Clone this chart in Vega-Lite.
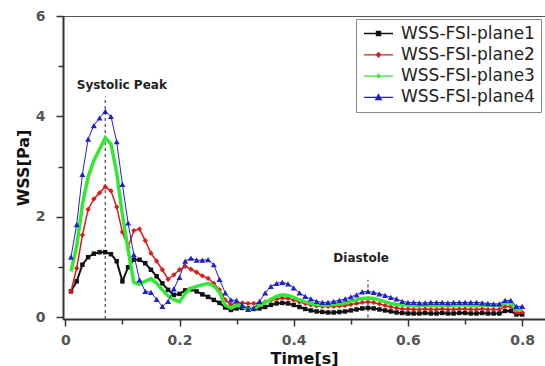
{
  "$schema": "https://vega.github.io/schema/vega-lite/v6.json",
  "autosize": {"type": "none"},
  "width": 482,
  "height": 303,
  "padding": {"left": 63, "top": 16, "right": 0, "bottom": 47},
  "background": "white",
  "config": {
    "view": {"stroke": "#555", "strokeWidth": 1},
    "font": "DejaVu Sans"
  },
  "datasets": {
    "p1": [
      {"t":0.01,"v":0.52},{"t":0.02,"v":0.72},{"t":0.03,"v":1.05},{"t":0.04,"v":1.2},{"t":0.05,"v":1.27},{"t":0.06,"v":1.3},{"t":0.07,"v":1.3},{"t":0.08,"v":1.26},{"t":0.09,"v":1.12},{"t":0.1,"v":0.72},
      {"t":0.11,"v":1.0},{"t":0.12,"v":1.15},{"t":0.13,"v":1.15},{"t":0.14,"v":1.08},{"t":0.15,"v":0.95},{"t":0.16,"v":0.82},{"t":0.17,"v":0.68},{"t":0.18,"v":0.55},{"t":0.19,"v":0.45},{"t":0.2,"v":0.47},
      {"t":0.21,"v":0.54},{"t":0.22,"v":0.56},{"t":0.23,"v":0.52},{"t":0.24,"v":0.46},{"t":0.25,"v":0.41},{"t":0.26,"v":0.35},{"t":0.27,"v":0.29},{"t":0.28,"v":0.2},{"t":0.29,"v":0.15},{"t":0.3,"v":0.18},
      {"t":0.31,"v":0.19},{"t":0.32,"v":0.18},{"t":0.33,"v":0.17},{"t":0.34,"v":0.18},{"t":0.35,"v":0.21},{"t":0.36,"v":0.25},{"t":0.37,"v":0.28},{"t":0.38,"v":0.29},{"t":0.39,"v":0.28},{"t":0.4,"v":0.25},
      {"t":0.41,"v":0.21},{"t":0.42,"v":0.17},{"t":0.43,"v":0.14},{"t":0.44,"v":0.12},{"t":0.45,"v":0.11},{"t":0.46,"v":0.1},{"t":0.47,"v":0.1},{"t":0.48,"v":0.11},{"t":0.49,"v":0.12},{"t":0.5,"v":0.14},
      {"t":0.51,"v":0.16},{"t":0.52,"v":0.18},{"t":0.53,"v":0.19},{"t":0.54,"v":0.18},{"t":0.55,"v":0.16},{"t":0.56,"v":0.14},{"t":0.57,"v":0.12},{"t":0.58,"v":0.1},{"t":0.59,"v":0.09},{"t":0.6,"v":0.08},
      {"t":0.61,"v":0.08},{"t":0.62,"v":0.08},{"t":0.63,"v":0.09},{"t":0.64,"v":0.08},{"t":0.65,"v":0.08},{"t":0.66,"v":0.09},{"t":0.67,"v":0.08},{"t":0.68,"v":0.08},{"t":0.69,"v":0.09},{"t":0.7,"v":0.09},
      {"t":0.71,"v":0.08},{"t":0.72,"v":0.08},{"t":0.73,"v":0.09},{"t":0.74,"v":0.08},{"t":0.75,"v":0.08},{"t":0.76,"v":0.08},{"t":0.77,"v":0.13},{"t":0.78,"v":0.13},{"t":0.79,"v":0.06},{"t":0.8,"v":0.06}
    ],
    "p2": [
      {"t":0.01,"v":0.52},{"t":0.02,"v":0.98},{"t":0.03,"v":1.64},{"t":0.04,"v":2.15},{"t":0.05,"v":2.36},{"t":0.06,"v":2.48},{"t":0.07,"v":2.6},{"t":0.08,"v":2.52},{"t":0.09,"v":2.2},{"t":0.1,"v":1.7},
      {"t":0.11,"v":1.4},{"t":0.12,"v":1.73},{"t":0.13,"v":1.76},{"t":0.14,"v":1.53},{"t":0.15,"v":1.28},{"t":0.16,"v":1.12},{"t":0.17,"v":0.95},{"t":0.18,"v":0.76},{"t":0.19,"v":0.85},{"t":0.2,"v":0.95},
      {"t":0.21,"v":1.02},{"t":0.22,"v":0.96},{"t":0.23,"v":0.9},{"t":0.24,"v":0.83},{"t":0.25,"v":0.78},{"t":0.26,"v":0.68},{"t":0.27,"v":0.55},{"t":0.28,"v":0.35},{"t":0.29,"v":0.25},{"t":0.3,"v":0.3},
      {"t":0.31,"v":0.29},{"t":0.32,"v":0.28},{"t":0.33,"v":0.28},{"t":0.34,"v":0.29},{"t":0.35,"v":0.31},{"t":0.36,"v":0.34},{"t":0.37,"v":0.37},{"t":0.38,"v":0.39},{"t":0.39,"v":0.38},{"t":0.4,"v":0.35},
      {"t":0.41,"v":0.31},{"t":0.42,"v":0.28},{"t":0.43,"v":0.25},{"t":0.44,"v":0.23},{"t":0.45,"v":0.22},{"t":0.46,"v":0.22},{"t":0.47,"v":0.22},{"t":0.48,"v":0.23},{"t":0.49,"v":0.24},{"t":0.5,"v":0.26},
      {"t":0.51,"v":0.28},{"t":0.52,"v":0.3},{"t":0.53,"v":0.31},{"t":0.54,"v":0.3},{"t":0.55,"v":0.27},{"t":0.56,"v":0.24},{"t":0.57,"v":0.21},{"t":0.58,"v":0.19},{"t":0.59,"v":0.17},{"t":0.6,"v":0.17},
      {"t":0.61,"v":0.16},{"t":0.62,"v":0.16},{"t":0.63,"v":0.17},{"t":0.64,"v":0.16},{"t":0.65,"v":0.16},{"t":0.66,"v":0.17},{"t":0.67,"v":0.16},{"t":0.68,"v":0.16},{"t":0.69,"v":0.17},{"t":0.7,"v":0.17},
      {"t":0.71,"v":0.16},{"t":0.72,"v":0.16},{"t":0.73,"v":0.17},{"t":0.74,"v":0.16},{"t":0.75,"v":0.16},{"t":0.76,"v":0.16},{"t":0.77,"v":0.22},{"t":0.78,"v":0.22},{"t":0.79,"v":0.1},{"t":0.8,"v":0.1}
    ],
    "p3": [
      {"t":0.01,"v":0.92},{"t":0.02,"v":1.42},{"t":0.03,"v":2.25},{"t":0.04,"v":2.8},{"t":0.05,"v":3.12},{"t":0.06,"v":3.35},{"t":0.07,"v":3.58},{"t":0.08,"v":3.45},{"t":0.09,"v":2.88},{"t":0.1,"v":2.05},
      {"t":0.11,"v":1.35},{"t":0.12,"v":0.7},{"t":0.13,"v":0.66},{"t":0.14,"v":0.72},{"t":0.15,"v":0.77},{"t":0.16,"v":0.68},{"t":0.17,"v":0.55},{"t":0.18,"v":0.43},{"t":0.19,"v":0.36},{"t":0.2,"v":0.31},
      {"t":0.21,"v":0.48},{"t":0.22,"v":0.58},{"t":0.23,"v":0.62},{"t":0.24,"v":0.65},{"t":0.25,"v":0.68},{"t":0.26,"v":0.63},{"t":0.27,"v":0.5},{"t":0.28,"v":0.25},{"t":0.29,"v":0.19},{"t":0.3,"v":0.24},
      {"t":0.31,"v":0.22},{"t":0.32,"v":0.16},{"t":0.33,"v":0.18},{"t":0.34,"v":0.24},{"t":0.35,"v":0.3},{"t":0.36,"v":0.36},{"t":0.37,"v":0.42},{"t":0.38,"v":0.45},{"t":0.39,"v":0.44},{"t":0.4,"v":0.4},
      {"t":0.41,"v":0.35},{"t":0.42,"v":0.31},{"t":0.43,"v":0.28},{"t":0.44,"v":0.26},{"t":0.45,"v":0.25},{"t":0.46,"v":0.25},{"t":0.47,"v":0.26},{"t":0.48,"v":0.27},{"t":0.49,"v":0.29},{"t":0.5,"v":0.32},
      {"t":0.51,"v":0.35},{"t":0.52,"v":0.38},{"t":0.53,"v":0.39},{"t":0.54,"v":0.38},{"t":0.55,"v":0.35},{"t":0.56,"v":0.31},{"t":0.57,"v":0.28},{"t":0.58,"v":0.26},{"t":0.59,"v":0.25},{"t":0.6,"v":0.25},
      {"t":0.61,"v":0.24},{"t":0.62,"v":0.24},{"t":0.63,"v":0.25},{"t":0.64,"v":0.24},{"t":0.65,"v":0.24},{"t":0.66,"v":0.25},{"t":0.67,"v":0.24},{"t":0.68,"v":0.24},{"t":0.69,"v":0.25},{"t":0.7,"v":0.25},
      {"t":0.71,"v":0.24},{"t":0.72,"v":0.24},{"t":0.73,"v":0.25},{"t":0.74,"v":0.24},{"t":0.75,"v":0.24},{"t":0.76,"v":0.24},{"t":0.77,"v":0.29},{"t":0.78,"v":0.29},{"t":0.79,"v":0.15},{"t":0.8,"v":0.15}
    ],
    "p4": [
      {"t":0.01,"v":1.2},{"t":0.02,"v":1.85},{"t":0.03,"v":2.85},{"t":0.04,"v":3.55},{"t":0.05,"v":3.82},{"t":0.06,"v":3.97},{"t":0.07,"v":4.1},{"t":0.08,"v":4.0},{"t":0.09,"v":3.5},{"t":0.1,"v":2.65},
      {"t":0.11,"v":1.88},{"t":0.12,"v":1.25},{"t":0.13,"v":0.75},{"t":0.14,"v":0.52},{"t":0.15,"v":0.5},{"t":0.16,"v":0.36},{"t":0.17,"v":0.22},{"t":0.18,"v":0.32},{"t":0.19,"v":0.57},{"t":0.2,"v":0.8},
      {"t":0.21,"v":1.12},{"t":0.22,"v":1.18},{"t":0.23,"v":1.14},{"t":0.24,"v":1.14},{"t":0.25,"v":1.15},{"t":0.26,"v":1.05},{"t":0.27,"v":0.76},{"t":0.28,"v":0.49},{"t":0.29,"v":0.35},{"t":0.3,"v":0.34},
      {"t":0.31,"v":0.24},{"t":0.32,"v":0.16},{"t":0.33,"v":0.18},{"t":0.34,"v":0.32},{"t":0.35,"v":0.49},{"t":0.36,"v":0.62},{"t":0.37,"v":0.68},{"t":0.38,"v":0.7},{"t":0.39,"v":0.67},{"t":0.4,"v":0.59},
      {"t":0.41,"v":0.49},{"t":0.42,"v":0.42},{"t":0.43,"v":0.37},{"t":0.44,"v":0.32},{"t":0.45,"v":0.3},{"t":0.46,"v":0.3},{"t":0.47,"v":0.32},{"t":0.48,"v":0.34},{"t":0.49,"v":0.37},{"t":0.5,"v":0.41},
      {"t":0.51,"v":0.45},{"t":0.52,"v":0.51},{"t":0.53,"v":0.52},{"t":0.54,"v":0.5},{"t":0.55,"v":0.47},{"t":0.56,"v":0.44},{"t":0.57,"v":0.4},{"t":0.58,"v":0.37},{"t":0.59,"v":0.32},{"t":0.6,"v":0.3},
      {"t":0.61,"v":0.3},{"t":0.62,"v":0.29},{"t":0.63,"v":0.29},{"t":0.64,"v":0.3},{"t":0.65,"v":0.3},{"t":0.66,"v":0.3},{"t":0.67,"v":0.29},{"t":0.68,"v":0.3},{"t":0.69,"v":0.3},{"t":0.7,"v":0.3},
      {"t":0.71,"v":0.3},{"t":0.72,"v":0.3},{"t":0.73,"v":0.29},{"t":0.74,"v":0.28},{"t":0.75,"v":0.27},{"t":0.76,"v":0.27},{"t":0.77,"v":0.34},{"t":0.78,"v":0.34},{"t":0.79,"v":0.22},{"t":0.8,"v":0.22}
    ],
    "rules": [
      {"t":0.07,"y1":-0.03,"y2":4.4},
      {"t":0.53,"y1":0.0,"y2":0.75}
    ],
    "notes": [
      {"t":0.099,"v":4.62,"label":"Systolic Peak"},
      {"t":0.518,"v":1.19,"label":"Diastole"}
    ]
  },
  "encoding": {
    "x": {
      "field": "t", "type": "quantitative",
      "scale": {"domain": [-0.004, 0.84], "nice": false, "zero": false},
      "axis": {
        "title": "Time[s]",
        "values": [0, 0.1, 0.2, 0.3, 0.4, 0.5, 0.6, 0.7, 0.8],
        "labelExpr": "round(datum.value*10) % 2 == 0 ? (datum.value == 0 ? '0' : format(datum.value, '.1f')) : ''",
        "grid": false,
        "domainColor": "#333", "domainWidth": 2,
        "tickColor": "#333", "tickWidth": 1.5,
        "tickSize": {"condition": {"test": "round(datum.value*10) % 2 == 0", "value": 7}, "value": 5},
        "labelFont": "DejaVu Sans", "labelFontSize": 14, "labelFontWeight": "bold", "labelColor": "#555",
        "labelPadding": 7, "labelFlush": false, "labelOverlap": false,
        "titleFont": "DejaVu Sans", "titleFontSize": 16, "titleFontWeight": "bold", "titleColor": "#111",
        "titlePadding": 3
      }
    },
    "y": {
      "field": "v", "type": "quantitative",
      "scale": {"domain": [-0.03, 6], "nice": false, "zero": false},
      "axis": {
        "title": "WSS[Pa]",
        "values": [0, 1, 2, 3, 4, 5, 6],
        "labelExpr": "datum.value % 2 == 0 ? datum.label : ''",
        "grid": false,
        "domainColor": "#333", "domainWidth": 2,
        "tickColor": "#333", "tickWidth": 1.5,
        "tickSize": {"condition": {"test": "datum.value % 2 == 0", "value": 7}, "value": 5},
        "labelFont": "DejaVu Sans", "labelFontSize": 14, "labelFontWeight": "bold", "labelColor": "#555",
        "labelPadding": 11, "labelFlush": false, "labelOverlap": false,
        "titleFont": "DejaVu Sans", "titleFontSize": 16, "titleFontWeight": "bold", "titleColor": "#111",
        "titlePadding": 4
      }
    }
  },
  "layer": [
    {
      "data": {"name": "rules"},
      "mark": {"type": "rule", "color": "#555", "strokeWidth": 1.3, "strokeDash": [3, 3]},
      "encoding": {"y": {"field": "y1", "type": "quantitative"}, "y2": {"field": "y2"}}
    },
    {
      "data": {"name": "notes"},
      "mark": {"type": "text", "font": "DejaVu Sans", "fontSize": 12, "fontWeight": "bold", "color": "#222", "align": "center", "baseline": "middle"},
      "encoding": {"text": {"field": "label"}}
    },
    {
      "data": {"name": "p1"},
      "mark": {"type": "line", "strokeWidth": 2},
      "encoding": {
        "color": {
          "datum": "WSS-FSI-plane1", "type": "nominal",
          "scale": {
            "domain": ["WSS-FSI-plane1", "WSS-FSI-plane2", "WSS-FSI-plane3", "WSS-FSI-plane4"],
            "range": ["#111111", "#dd1a1a", "#33e833", "#1f1fcc"]
          },
          "legend": {
            "title": null,
            "orient": "none",
            "legendX": 293,
            "legendY": 3,
            "direction": "vertical",
            "fillColor": "white",
            "strokeColor": "#888",
            "padding": 6,
            "rowPadding": 3.3,
            "symbolSize": 210,
            "symbolOffset": 8,
            "symbolStrokeWidth": 1.3,
            "labelFont": "DejaVu Sans",
            "labelFontSize": 17,
            "labelColor": "#222",
            "labelOffset": 14,
            "labelLimit": 300,
            "encode": {
              "symbols": {
                "update": {
                  "shape": {"signal": "datum.value == 'WSS-FSI-plane1' ? 'M-2,0H2M-0.28,-0.28H0.28V0.28H-0.28Z' : datum.value == 'WSS-FSI-plane2' ? 'M-2,0H2M0,-0.3L0.3,0L0,0.3L-0.3,0Z' : datum.value == 'WSS-FSI-plane3' ? 'M-2,0H2M0,-0.22L0.22,0L0,0.22L-0.22,0Z' : 'M-2,0H2M0,-0.38L0.38,0.3H-0.38Z'"},
                  "fill": {"signal": "scale('color', datum.value)"},
                  "stroke": {"signal": "scale('color', datum.value)"},
                  "fillOpacity": {"value": 1},
                  "strokeOpacity": {"value": 1}
                }
              }
            }
          }
        }
      }
    },
    {
      "data": {"name": "p1"},
      "mark": {"type": "point", "shape": "square", "filled": true, "size": 20, "opacity": 1},
      "encoding": {"color": {"datum": "WSS-FSI-plane1", "type": "nominal"}}
    },
    {
      "data": {"name": "p2"},
      "mark": {"type": "line", "strokeWidth": 1.5},
      "encoding": {"color": {"datum": "WSS-FSI-plane2", "type": "nominal"}}
    },
    {
      "data": {"name": "p2"},
      "mark": {"type": "point", "shape": "diamond", "filled": true, "size": 28, "opacity": 1},
      "encoding": {"color": {"datum": "WSS-FSI-plane2", "type": "nominal"}}
    },
    {
      "data": {"name": "p3"},
      "mark": {"type": "line", "strokeWidth": 3.5},
      "encoding": {"color": {"datum": "WSS-FSI-plane3", "type": "nominal"}}
    },
    {
      "data": {"name": "p4"},
      "mark": {"type": "line", "strokeWidth": 1},
      "encoding": {"color": {"datum": "WSS-FSI-plane4", "type": "nominal"}}
    },
    {
      "data": {"name": "p4"},
      "mark": {"type": "point", "shape": "triangle-up", "filled": true, "size": 36, "opacity": 1},
      "encoding": {"color": {"datum": "WSS-FSI-plane4", "type": "nominal"}}
    }
  ]
}
